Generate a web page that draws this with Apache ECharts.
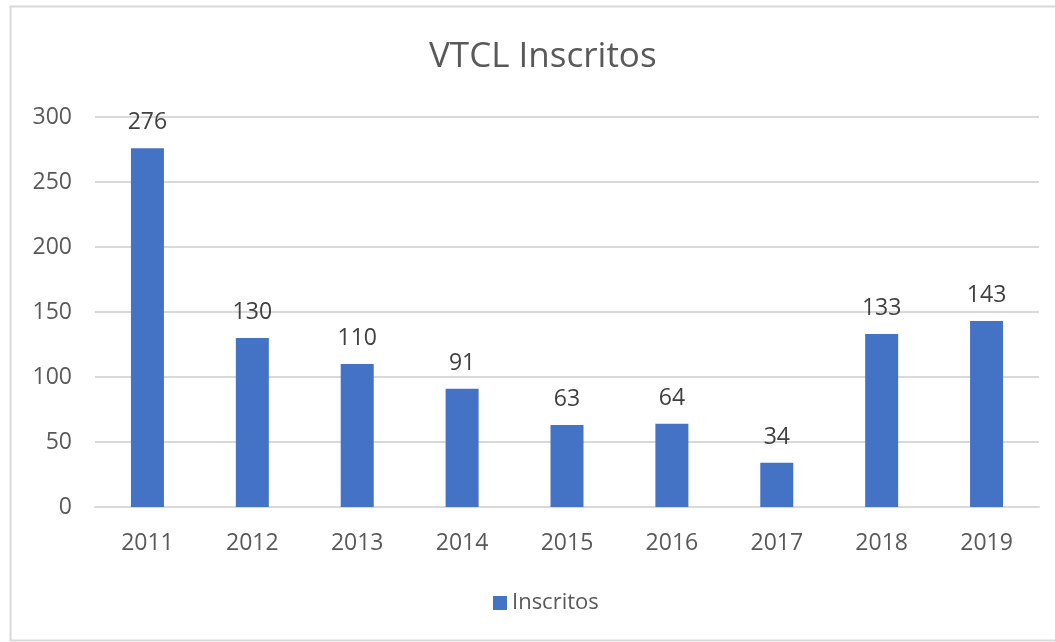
<!DOCTYPE html>
<html><head><meta charset="utf-8">
<script src="https://cdn.jsdelivr.net/npm/echarts@6/dist/echarts.min.js"></script>
<style>html,body{margin:0;padding:0;background:#fff}#c{width:1055px;height:642px}</style>
</head><body><div id="c"></div>
<script>
const categories = ['2011','2012','2013','2014','2015','2016','2017','2018','2019'];
const inscritos = [276,130,110,91,63,64,34,133,143];
const seriesName = 'Inscritos';
const titleText = 'VTCL Inscritos';

const font = '"Open Sans", "Noto Sans", sans-serif';
const chart = echarts.init(document.getElementById('c'));
chart.setOption({
  animation: false,
  backgroundColor: '#fff',
  graphic: [{
    type: 'rect', silent: true, z: -1,
    shape: { x: 10.5, y: 6.5, width: 1060, height: 634 },
    style: { fill: 'none', stroke: '#d9d9d9', lineWidth: 2 }
  }],
  title: {
    text: titleText, left: 424, top: 35,
    textStyle: { fontFamily: font, fontSize: 35, fontWeight: 'normal', color: '#595959' }
  },
  legend: {
    data: [seriesName], bottom: 23, left: 488,
    icon: 'rect', itemWidth: 14, itemHeight: 14, itemGap: 8,
    textStyle: { fontFamily: font, fontSize: 22, color: '#595959' }
  },
  grid: { left: 95, right: 16, top: 117, bottom: 135 },
  xAxis: {
    type: 'category', data: categories,
    axisLine: { lineStyle: { color: '#d9d9d9', width: 2 } },
    axisTick: { show: false },
    axisLabel: { fontFamily: font, fontSize: 23, color: '#595959', margin: 25 }
  },
  yAxis: {
    type: 'value', min: 0, max: 300, interval: 50,
    axisLine: { show: false }, axisTick: { show: false },
    splitLine: { lineStyle: { color: '#d9d9d9', width: 2 } },
    axisLabel: { fontFamily: font, fontSize: 23, color: '#595959', margin: 23 }
  },
  series: [{
    name: seriesName, type: 'bar', data: inscritos, barWidth: 33,
    itemStyle: { color: '#4472c4' },
    label: { show: true, position: 'top', distance: 14,
      fontFamily: font, fontSize: 23, color: '#404040' }
  }]
});
</script></body></html>
